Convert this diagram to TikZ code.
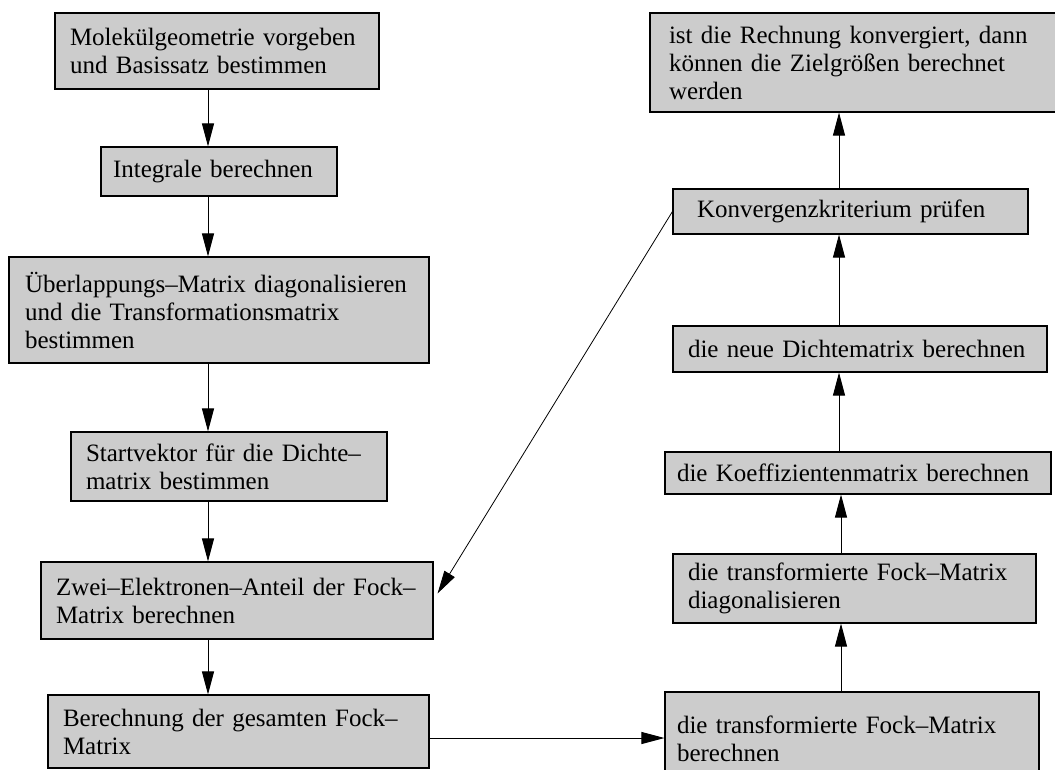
\documentclass[tikz,border=0pt]{standalone}
\usepackage{fontspec}
\setmainfont{Liberation Serif}
\usetikzlibrary{arrows.meta,calc}
\definecolor{boxgray}{RGB}{204,204,204}
\begin{document}
\begin{tikzpicture}[x=1pt,y=-1pt,
  font=\fontsize{25}{28}\selectfont,
  box/.style={draw=black, line width=1.1pt, fill=boxgray, align=left, anchor=center, inner ysep=4pt},
  arr/.style={line width=1pt, -{Triangle[length=23pt,width=12pt]}},
  thinarr/.style={line width=0.8pt, -{Triangle[length=23pt,width=12pt]}},
]
\useasboundingbox (0,0) rectangle (1055,769);

% left column
\node[box, text width=294pt, inner xsep=15pt, minimum height=76pt] (b1) at (217,51)
  {\mbox{Molekülgeometrie vorgeben}\\\mbox{und Basissatz bestimmen}};
\node[box, text width=212pt, inner xsep=12pt, minimum height=49pt] (b2) at (219,171.5)
  {\mbox{Integrale berechnen}};
\node[box, text width=388pt, inner xsep=16pt, minimum height=106pt] (b3) at (219,310)
  {\mbox{Überlappungs–Matrix diagonalisieren}\\\mbox{und die Transformationsmatrix}\\\mbox{bestimmen}};
\node[box, text width=286pt, inner xsep=15pt, minimum height=69pt] (b4) at (229,466.5)
  {\mbox{Startvektor für die Dichte–}\\\mbox{matrix bestimmen}};
\node[box, text width=362pt, inner xsep=15pt, minimum height=77pt] (b5) at (237,600.5)
  {\mbox{Zwei–Elektronen–Anteil der Fock–}\\\mbox{Matrix berechnen}};
\node[box, text width=351pt, inner xsep=15pt, minimum height=73pt] (b6) at (238.5,731.5)
  {\mbox{Berechnung der gesamten Fock–}\\\mbox{Matrix}};

% right column
\node[box, text width=372pt, inner xsep=19pt, minimum height=99pt] (r1) at (855,62.5)
  {\mbox{ist die Rechnung konvergiert, dann}\\\mbox{können die Zielgrößen berechnet}\\\mbox{werden}};
\node[box, text width=307pt, inner xsep=24pt, minimum height=45pt] (r2) at (850.5,211.5)
  {\mbox{Konvergenzkriterium prüfen}};
\node[box, text width=344pt, inner xsep=15pt, minimum height=46pt] (r3) at (860,349)
  {\mbox{die neue Dichtematrix berechnen}};
\node[box, text width=362pt, inner xsep=12pt, minimum height=42pt] (r4) at (858,473)
  {\mbox{die Koeffizientenmatrix berechnen}};
\node[box, text width=333pt, inner xsep=15pt, minimum height=69pt] (r5) at (854.5,588.5)
  {\mbox{die transformierte Fock–Matrix}\\\mbox{diagonalisieren}};
\node[box, text width=350pt, inner xsep=12pt, minimum height=93pt] (r6) at (852,738.5)
  {\mbox{die transformierte Fock–Matrix}\\\mbox{berechnen}};

% helper coordinates
\coordinate (lx) at (208,0);
\coordinate (rxa) at (839,0);
\coordinate (rxb) at (841,0);
\coordinate (hy) at (0,738);

% left column arrows
\draw[arr] (b1.south -| lx) -- (b2.north -| lx);
\draw[arr] (b2.south -| lx) -- (b3.north -| lx);
\draw[arr] (b3.south -| lx) -- (b4.north -| lx);
\draw[arr] (b4.south -| lx) -- (b5.north -| lx);
\draw[arr] (b5.south -| lx) -- (b6.north -| lx);

% bottom horizontal arrow
\draw[arr] (b6.east |- hy) -- (r6.west |- hy);

% right column arrows
\draw[arr] (r6.north -| rxb) -- (r5.south -| rxb);
\draw[arr] (r5.north -| rxb) -- (r4.south -| rxb);
\draw[arr] (r4.north -| rxa) -- (r3.south -| rxa);
\draw[arr] (r3.north -| rxa) -- (r2.south -| rxa);
\draw[arr] (r2.north -| rxa) -- (r1.south -| rxa);

% diagonal feedback arrow
\draw[thinarr] (r2.west) -- ($(b5.east)+(4,-7)$);
\end{tikzpicture}
\end{document}
